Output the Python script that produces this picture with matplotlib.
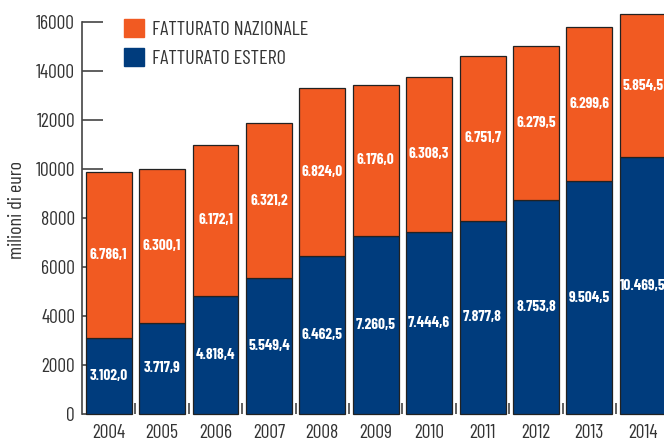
import numpy as np
import matplotlib
matplotlib.use("Agg")
from matplotlib import pyplot as plt
from matplotlib.patches import Patch

anni = ["2004", "2005", "2006", "2007", "2008", "2009", "2010", "2011", "2012", "2013", "2014"]
estero = [3102.0, 3717.9, 4818.4, 5549.4, 6462.5, 7260.5, 7444.6, 7877.8, 8753.8, 9504.5, 10469.5]
nazionale = [6786.1, 6300.1, 6172.1, 6321.2, 6824.0, 6176.0, 6308.3, 6751.7, 6279.5, 6299.6, 5854.5]
yticks = [0, 2000, 4000, 6000, 8000, 10000, 12000, 14000, 16000]

myOrange = "#F15A22"
myBlue = "#003C7D"
grey = "#333333"
narrow = ["Barlow Condensed", "DejaVu Sans"]

def fmt(v):
    s = "{:,.1f}".format(v)
    return s.replace(",", "X").replace(".", ",").replace("X", ".")

fig = plt.figure(figsize=(6.64, 4.41), dpi=100)
ax = fig.add_axes([82/664, 27/441, 587.5/664, 392/441])

x = np.arange(len(anni))
w = 0.86
ax.bar(x, estero, w, color=myBlue, edgecolor="#222222", linewidth=0.9, zorder=3, clip_on=False)
ax.bar(x, nazionale, w, bottom=estero, color=myOrange, edgecolor="#222222", linewidth=0.9, zorder=3, clip_on=False)

for i in range(len(anni)):
    ax.text(x[i], estero[i]/2.0, fmt(estero[i]), ha="center", va="center", color="white",
            fontsize=11, fontweight="bold", family=narrow, fontstretch="condensed", zorder=4)
    ax.text(x[i], estero[i] + nazionale[i]/2.0, fmt(nazionale[i]), ha="center", va="center", color="white",
            fontsize=11, fontweight="bold", family=narrow, fontstretch="condensed", zorder=4)

ax.set_xlim(-0.5, 10.5)
ax.set_ylim(0, 16000)
ax.set_yticks(yticks)
ax.set_yticklabels([str(t) for t in yticks], family=narrow, fontstretch="condensed", fontsize=14, color=grey)
ax.tick_params(axis="y", direction="in", length=15, width=1.2, color="#444444", pad=5)

ax.set_xticks(x)
ax.set_xticklabels(anni, family=narrow, fontstretch="condensed", fontsize=14, color=grey)
ax.tick_params(axis="x", length=0, pad=7)
ax.set_xticks(x[:-1] + 0.5, minor=True)
ax.tick_params(axis="x", which="minor", direction="in", length=8, width=1.2, color="#444444")

for s in ["top", "right", "bottom"]:
    ax.spines[s].set_visible(False)
ax.spines["left"].set_linewidth(1.2)
ax.spines["left"].set_color("#444444")

ax.set_ylabel("milioni di euro", family=narrow, fontstretch="condensed", fontsize=14.5, color=grey)
ax.yaxis.set_label_coords(-0.095, 0.52)

handles = [Patch(color=myOrange), Patch(color=myBlue)]
leg = fig.legend(handles, ["FATTURATO NAZIONALE", "FATTURATO ESTERO"], loc="upper left",
                 bbox_to_anchor=(124/664, 1 - 19/441), frameon=False, borderpad=0, borderaxespad=0,
                 handlelength=1.0, handleheight=1.0, handletextpad=0.4, labelspacing=0.45,
                 prop={"family": narrow, "stretch": "condensed", "size": 14.5})
for t in leg.get_texts():
    t.set_color(grey)

plt.savefig("out.png", dpi=100)
